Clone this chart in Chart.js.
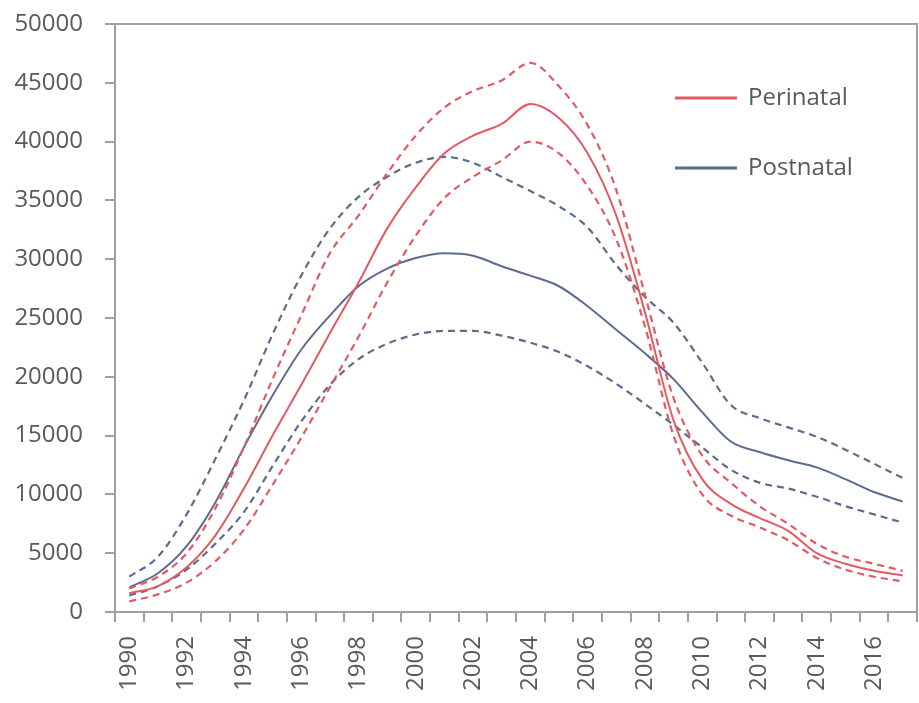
<!DOCTYPE html>
<html>
<head>
<meta charset="utf-8">
<script src="https://cdn.jsdelivr.net/npm/chart.js@4.4.1/dist/chart.umd.min.js"></script>
<style>
html,body{margin:0;padding:0;background:#fff;}
#wrap{width:919px;height:703px;position:relative;}
</style>
</head>
<body>
<div id="wrap"><canvas id="c" width="919" height="703"></canvas></div>
<script>
const years = ['1990','1991','1992','1993','1994','1995','1996','1997','1998','1999','2000','2001','2002','2003','2004','2005','2006','2007','2008','2009','2010','2011','2012','2013','2014','2015','2016','2017'];
const perinatal      = [1600,2200,3800,6500,10500,15000,19300,23700,28000,32600,36100,39000,40500,41500,43200,42000,39000,33700,25500,16300,11300,9200,8000,6900,5000,4100,3500,3100];
const perinatalUpper = [2000,3000,5000,8800,14000,19800,25200,30500,33700,37300,40500,42900,44300,45200,46700,44700,41400,35900,27000,18200,13300,11000,9000,7500,5800,4700,4100,3500];
const perinatalLower = [900,1500,2500,4300,7000,10800,14800,19100,23400,28000,32000,35200,37000,38400,40000,39000,36200,31700,24300,15000,10000,8200,7200,6100,4600,3600,3000,2600];
const postnatal      = [2100,3300,5600,9300,14000,18400,22300,25200,27700,29200,30100,30500,30300,29400,28600,27700,26000,24000,22000,19800,17000,14500,13600,12900,12300,11300,10200,9400];
const postnatalUpper = [3000,4700,8300,13000,18000,23600,28600,32600,35300,37000,38200,38700,38200,37000,35800,34500,32700,29500,26800,24600,21200,17600,16500,15700,14900,13800,12600,11400];
const postnatalLower = [1400,2200,3600,5800,8500,12400,16200,19300,21500,22800,23600,23900,23900,23500,22900,22100,20900,19400,17700,15900,14000,12100,11000,10500,9800,9000,8300,7600];
const legendNames = ['Perinatal','Postnatal'];

const RED = '#e25b62';
const BLUE = '#5b6c8f';
const AXIS = '#a0a0a0';
const TXT = '#5a5a5a';
const FONT = '"Open Sans", "Liberation Sans", sans-serif';

function ds(data, color, dashed, label){
  return {
    label: label, data: data, borderColor: color, backgroundColor: color,
    borderWidth: dashed ? 2.2 : 2, borderDash: dashed ? [7,5] : [],
    pointRadius: 0, cubicInterpolationMode: 'monotone', fill: false
  };
}

const boxPlugin = {
  id: 'box',
  afterDraw(chart){
    const {ctx, chartArea:a} = chart;
    ctx.save();
    ctx.strokeStyle = AXIS;
    ctx.lineWidth = 2;
    ctx.beginPath();
    ctx.moveTo(a.left, a.top); ctx.lineTo(a.right, a.top); ctx.lineTo(a.right, a.bottom);
    ctx.stroke();
    const items = [[legendNames[0], RED, 98], [legendNames[1], BLUE, 168]];
    ctx.font = '24px ' + FONT;
    ctx.textBaseline = 'middle';
    ctx.textAlign = 'left';
    items.forEach(([t, c, y]) => {
      ctx.strokeStyle = c; ctx.lineWidth = 3;
      ctx.beginPath(); ctx.moveTo(675, y); ctx.lineTo(737, y); ctx.stroke();
      ctx.fillStyle = TXT;
      ctx.fillText(t, 748, y);
    });
    ctx.restore();
  }
};

new Chart(document.getElementById('c'), {
  type: 'line',
  data: {
    labels: years,
    datasets: [
      ds(perinatal, RED, false, 'Perinatal'),
      ds(perinatalUpper, RED, true, 'Perinatal upper'),
      ds(perinatalLower, RED, true, 'Perinatal lower'),
      ds(postnatal, BLUE, false, 'Postnatal'),
      ds(postnatalUpper, BLUE, true, 'Postnatal upper'),
      ds(postnatalLower, BLUE, true, 'Postnatal lower')
    ]
  },
  options: {
    responsive: false,
    animation: false,
    layout: { padding: { top: 24, right: 2, left: 0, bottom: 0 } },
    plugins: { legend: { display: false }, tooltip: { enabled: false } },
    scales: {
      x: {
        type: 'category',
        offset: true,
        grid: { offset: true, drawOnChartArea: false, drawTicks: true, tickLength: 10, color: AXIS, lineWidth: 2 },
        border: { display: true, color: AXIS, width: 2 },
        ticks: {
          autoSkip: false, maxRotation: 90, minRotation: 90, padding: 14,
          color: TXT, font: { family: FONT, size: 24 },
          callback: function(v, i){ return i % 2 === 0 ? this.getLabelForValue(v) : ''; }
        },
        afterFit(s){ s.height = 91; s.paddingLeft = 0; s.paddingRight = 0; }
      },
      y: {
        min: 0, max: 50000,
        grid: { drawOnChartArea: false, drawTicks: true, tickLength: 10, color: AXIS, lineWidth: 2 },
        border: { display: true, color: AXIS, width: 2 },
        ticks: { stepSize: 5000, padding: 22, color: TXT, font: { family: FONT, size: 24 },
          callback: function(v){ return String(v); } },
        afterFit(s){ s.width = 115; s.paddingTop = 0; s.paddingBottom = 0; }
      }
    }
  },
  plugins: [boxPlugin]
});
</script>
</body>
</html>
